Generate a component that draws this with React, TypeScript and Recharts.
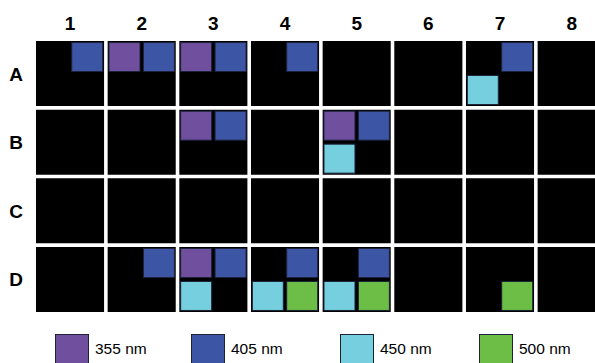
import React from "react";
import { ScatterChart, Scatter, XAxis, YAxis, ReferenceArea } from "recharts";

const columns = [1, 2, 3, 4, 5, 6, 7, 8];
const rows = ["A", "B", "C", "D"];

const wavelengths = ["355 nm", "405 nm", "450 nm", "500 nm"];
const wells355 = ["A2", "A3", "B3", "B5", "D3"];
const wells405 = ["A1", "A2", "A3", "A4", "A7", "B3", "B5", "D2", "D3", "D4", "D5"];
const wells450 = ["A7", "B5", "D3", "D4", "D5"];
const wells500 = ["D4", "D5", "D7"];

const colors = ["#6f4f9e", "#3c55a5", "#76cfde", "#6cbe46"];
// quadrant of each wavelength inside a well: [dx, dy]
const quadrants = [
    [-1, -1],
    [1, -1],
    [-1, 1],
    [1, 1],
];

const FONT = "'Liberation Sans', Arial, Helvetica, sans-serif";

const toPoints = (wells: string[], q: number[]) =>
    wells.map((w) => ({
        x: Number(w.slice(1)) + q[0] * 0.24,
        y: rows.indexOf(w[0]) + 1 + q[1] * 0.24,
        well: w,
    }));

const series = [wells355, wells405, wells450, wells500].map((wells, i) => ({
    name: wavelengths[i],
    color: colors[i],
    data: toPoints(wells, quadrants[i]),
}));

const ColTick = ({ x, y, payload }: any) => (
    <text x={x} y={y - 9} textAnchor="middle" fontFamily={FONT} fontWeight={700} fontSize={19} fill="#000">
        {payload.value}
    </text>
);

const RowTick = ({ x, y, payload }: any) => (
    <text x={x - 18} y={y + 7} textAnchor="middle" fontFamily={FONT} fontWeight={700} fontSize={19} fill="#000">
        {rows[payload.value - 1]}
    </text>
);

const legendLeft = [55, 191, 340, 479];

export default function App() {
    return (
        <div style={{ position: "absolute", left: 0, top: 0, width: 595, height: 363, overflow: "hidden", background: "#fff" }}>
            <ScatterChart width={620} height={363} margin={{ top: 0, right: 12.5, bottom: 49.2, left: 0 }}>
                <XAxis
                    type="number"
                    dataKey="x"
                    orientation="top"
                    domain={[0.5, 8.5]}
                    ticks={columns}
                    height={39.2}
                    axisLine={false}
                    tickLine={false}
                    tickSize={0}
                    tickMargin={0}
                    tick={<ColTick />}
                    interval={0}
                />
                <YAxis
                    type="number"
                    dataKey="y"
                    domain={[0.5, 4.5]}
                    reversed
                    ticks={[1, 2, 3, 4]}
                    width={34.2}
                    axisLine={false}
                    tickLine={false}
                    tickSize={0}
                    tickMargin={0}
                    tick={<RowTick />}
                    interval={0}
                />
                {rows.map((r, ri) =>
                    columns.map((c) => (
                        <ReferenceArea
                            key={`${r}${c}`}
                            x1={c - 0.475}
                            x2={c + 0.475}
                            y1={ri + 1 - 0.474}
                            y2={ri + 1 + 0.474}
                            fill="#000"
                            fillOpacity={1}
                            stroke="none"
                        />
                    ))
                )}
                {series.map((s) => (
                    <Scatter
                        key={s.name}
                        name={s.name}
                        data={s.data}
                        isAnimationActive={false}
                        shape={(p: any) => (
                            <rect
                                x={p.cx - 15.5}
                                y={p.cy - 14.5}
                                width={31}
                                height={29}
                                fill={s.color}
                                stroke="#1c2238"
                                strokeWidth={1}
                            />
                        )}
                    />
                ))}
            </ScatterChart>
            {series.map((s, i) => (
                <div key={s.name} style={{ position: "absolute", left: legendLeft[i], top: 334, display: "flex", alignItems: "flex-start" }}>
                    <div style={{ width: 32, height: 34, background: s.color, border: "1px solid #1c2238" }} />
                    <span style={{ marginLeft: 6, marginTop: 6, fontFamily: FONT, fontSize: 15.5, color: "#000", lineHeight: "18px" }}>
                        {s.name}
                    </span>
                </div>
            ))}
        </div>
    );
}
